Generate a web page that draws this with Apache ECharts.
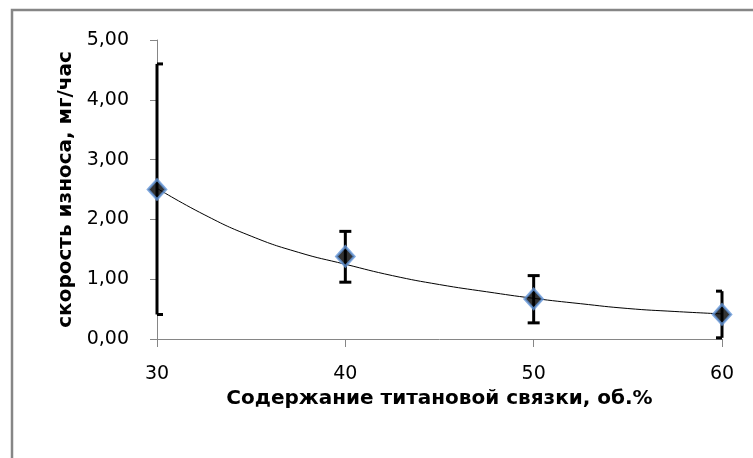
<!DOCTYPE html>
<html>
<head>
<meta charset="utf-8">
<script src="https://cdn.jsdelivr.net/npm/echarts@6/dist/echarts.min.js"></script>
<style>
html,body{margin:0;padding:0;background:#fff;}
#c{width:753px;height:458px;}
</style>
</head>
<body>
<div id="c"></div>
<script>
// Data
var xValues = [30, 40, 50, 60];
var wearRate = [2.50, 1.38, 0.67, 0.41];
var errLow = [0.41, 0.95, 0.27, 0.02];
var errHigh = [4.60, 1.80, 1.06, 0.80];
var trendX = [30, 32.5, 35, 37.5, 40, 42.5, 45, 47.5, 50, 52.5, 55, 57.5, 60];
var trendY = [2.52, 2.08, 1.72, 1.45, 1.25, 1.06, 0.91, 0.79, 0.68, 0.59, 0.51, 0.46, 0.42];
var yTicks = [0, 1, 2, 3, 4, 5];
var xTitle = 'Содержание титановой связки, об.%';
var yTitle = 'скорость износа, мг/час';

var FONT = 'DejaVu Sans';
var chart = echarts.init(document.getElementById('c'), null, {renderer: 'canvas'});

var points = xValues.map(function (x, i) { return [x, wearRate[i]]; });
var errData = xValues.map(function (x, i) { return [x, errLow[i], errHigh[i]]; });
var trend = trendX.map(function (x, i) { return [x, trendY[i]]; });

chart.setOption({
  animation: false,
  backgroundColor: '#fff',
  graphic: [{
    type: 'rect',
    shape: {x: 12, y: 10, width: 800, height: 500},
    style: {fill: 'none', stroke: '#868686', lineWidth: 2.5},
    silent: true
  }],
  grid: {left: 157, right: 31, top: 40, bottom: 119},
  xAxis: {
    type: 'value', min: 30, max: 60, interval: 10,
    name: xTitle, nameLocation: 'middle', nameGap: 50,
    nameTextStyle: {fontFamily: FONT, fontWeight: 'bold', fontSize: 20, color: '#000'},
    axisLine: {lineStyle: {color: '#868686', width: 1}},
    axisTick: {show: true, length: 8, lineStyle: {color: '#868686'}},
    axisLabel: {fontFamily: FONT, fontSize: 19, color: '#000', margin: 26},
    splitLine: {show: false}
  },
  yAxis: {
    type: 'value', min: yTicks[0], max: yTicks[yTicks.length - 1], interval: 1,
    name: yTitle, nameLocation: 'middle', nameGap: 76, nameRotate: 90,
    nameTextStyle: {fontFamily: FONT, fontWeight: 'bold', fontSize: 20, color: '#000'},
    axisLine: {show: true, lineStyle: {color: '#868686', width: 1}},
    axisTick: {show: true, length: 7, lineStyle: {color: '#868686'}},
    axisLabel: {fontFamily: FONT, fontSize: 19, color: '#000', margin: 28,
      formatter: function (v) { return v.toFixed(2).replace('.', ','); }},
    splitLine: {show: false}
  },
  series: [
    {
      type: 'line', data: trend, smooth: true, symbol: 'none',
      lineStyle: {color: '#000', width: 1}, z: 2
    },
    {
      type: 'custom', data: errData, z: 3,
      renderItem: function (params, api) {
        var cs = params.coordSys;
        var x = api.value(0);
        var lo = api.coord([x, api.value(1)]);
        var hi = api.coord([x, api.value(2)]);
        var cx = lo[0];
        var half = 6;
        var l = Math.max(cs.x, cx - half);
        var r = Math.min(cs.x + cs.width, cx + half);
        var style = {stroke: '#000', lineWidth: 3, fill: 'none'};
        return {
          type: 'group',
          children: [
            {type: 'line', shape: {x1: cx, y1: lo[1], x2: cx, y2: hi[1]}, style: style},
            {type: 'line', shape: {x1: l, y1: lo[1], x2: r, y2: lo[1]}, style: style},
            {type: 'line', shape: {x1: l, y1: hi[1], x2: r, y2: hi[1]}, style: style}
          ]
        };
      }
    },
    {
      type: 'scatter', data: points, symbol: 'diamond', symbolSize: [18, 20],
      itemStyle: {color: '#000', borderColor: '#6496d8', borderWidth: 2.5}, z: 4
    }
  ]
});
</script>
</body>
</html>
